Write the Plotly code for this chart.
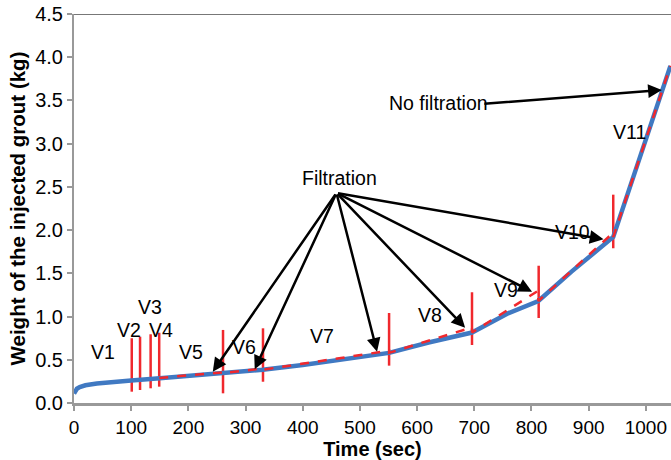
import plotly.graph_objects as go

# ---------------- data ----------------
time_blue = [0, 2, 5, 10, 20, 40, 70, 100, 150, 200, 261, 330, 400, 480, 551, 620, 696, 760, 812, 870, 943, 990, 1043]
weight_blue = [0.11, 0.145, 0.165, 0.185, 0.205, 0.225, 0.245, 0.26, 0.285, 0.31, 0.345, 0.385, 0.44, 0.51, 0.58, 0.70, 0.815, 1.04, 1.18, 1.52, 1.92, 2.85, 3.90]

time_red = [149, 261, 261, 330, 330, 551, 551, 696, 696, 812, 812, 943, 943, 1043]
weight_red = [0.29, 0.355, 0.345, 0.40, 0.385, 0.605, 0.58, 0.875, 0.815, 1.30, 1.18, 1.97, 1.92, 3.90]

valve_time = [101, 115.5, 134, 149, 260.6, 330.5, 551, 696, 812.6, 943]
valve_low = [0.131, 0.150, 0.170, 0.189, 0.112, 0.246, 0.432, 0.671, 0.983, 1.79]
valve_high = [0.749, 0.767, 0.795, 0.813, 0.845, 0.864, 1.041, 1.281, 1.588, 2.41]

valve_labels = ["V1", "V2", "V3", "V4", "V5", "V6", "V7", "V8", "V9", "V10", "V11"]
label_pos = [(50.7, 0.594), (96.5, 0.848), (133.6, 1.11), (152.8, 0.848), (204.4, 0.594),
             (296.6, 0.644), (434, 0.771), (622, 1.015), (755, 1.307), (871, 1.975), (971.5, 3.131)]

filtration_text_pos = (464, 2.60)
nofilt_text_pos = (637.5, 3.47)
filtration_origin = (459, 2.43)
filtration_tips = [(242.7, 0.362), (316, 0.39), (530, 0.594), (684, 0.871), (801, 1.288), (926, 1.894)]
nofilt_tail = (715, 3.46)
nofilt_tip = (1028, 3.62)

x_ticks = list(range(0, 1001, 100))
y_ticks = [0.0, 0.5, 1.0, 1.5, 2.0, 2.5, 3.0, 3.5, 4.0, 4.5]

FONT = "Liberation Sans, Arial, sans-serif"

fig = go.Figure()

# valve markers (red vertical lines)
vx, vy = [], []
for t, lo, hi in zip(valve_time, valve_low, valve_high):
    vx += [t, t, None]
    vy += [lo, hi, None]
fig.add_trace(go.Scatter(x=vx, y=vy, mode="lines", line=dict(color="#f0282d", width=2.5),
                         showlegend=False, hoverinfo="skip"))

fig.add_trace(go.Scatter(x=time_blue, y=weight_blue, mode="lines",
                         line=dict(color="#4079c2", width=4.5), showlegend=False))
fig.add_trace(go.Scatter(x=time_red, y=weight_red, mode="lines",
                         line=dict(color="#f0282d", width=2.5, dash="dash"), showlegend=False))

annotations = []
for lab, (lx, ly) in zip(valve_labels, label_pos):
    annotations.append(dict(x=lx, y=ly, text=lab, showarrow=False, xref="x", yref="y",
                            font=dict(family=FONT, size=19.5, color="black")))
annotations.append(dict(x=filtration_text_pos[0], y=filtration_text_pos[1], text="Filtration",
                        showarrow=False, xref="x", yref="y",
                        font=dict(family=FONT, size=19.5, color="black")))
annotations.append(dict(x=nofilt_text_pos[0], y=nofilt_text_pos[1], text="No filtration",
                        showarrow=False, xref="x", yref="y",
                        font=dict(family=FONT, size=19.5, color="black")))
for tx, ty in filtration_tips:
    annotations.append(dict(x=tx, y=ty, ax=filtration_origin[0], ay=filtration_origin[1],
                            xref="x", yref="y", axref="x", ayref="y", text="",
                            showarrow=True, arrowhead=2, arrowsize=1.1, arrowwidth=2.5,
                            arrowcolor="black", standoff=0, startstandoff=0))
annotations.append(dict(x=nofilt_tip[0], y=nofilt_tip[1], ax=nofilt_tail[0], ay=nofilt_tail[1],
                        xref="x", yref="y", axref="x", ayref="y", text="",
                        showarrow=True, arrowhead=2, arrowsize=1.1, arrowwidth=2.5,
                        arrowcolor="black", standoff=0, startstandoff=0))

fig.update_layout(
    width=671, height=460,
    margin=dict(l=73.5, r=0, t=14, b=57),
    plot_bgcolor="white", paper_bgcolor="white",
    font=dict(family=FONT, size=19, color="black"),
    annotations=annotations,
    shapes=[dict(type="line", xref="paper", yref="y", x0=0, x1=1, y0=4.5, y1=4.5,
                 line=dict(color="#777777", width=2))],
    xaxis=dict(range=[0, 1044], tickvals=x_ticks, ticktext=[str(v) for v in x_ticks],
               showgrid=False, zeroline=False, showline=True, linecolor="#999999", linewidth=3,
               ticks="outside", ticklen=5, tickwidth=2, tickcolor="#999999",
               tickfont=dict(family=FONT, size=19),
               title=dict(text="<b>Time (sec)</b>", font=dict(family=FONT, size=20), standoff=6)),
    yaxis=dict(range=[0, 4.5], tickvals=y_ticks, ticktext=[f"{v:.1f}" for v in y_ticks],
               showgrid=False, zeroline=False, showline=True, linecolor="#999999", linewidth=2,
               ticks="outside", ticklen=5, tickwidth=2, tickcolor="#999999",
               tickfont=dict(family=FONT, size=20),
               title=dict(text="<b>Weight of the injected grout (kg)</b>", font=dict(family=FONT, size=20.5), standoff=4)),
)

fig.write_html("out.html")
